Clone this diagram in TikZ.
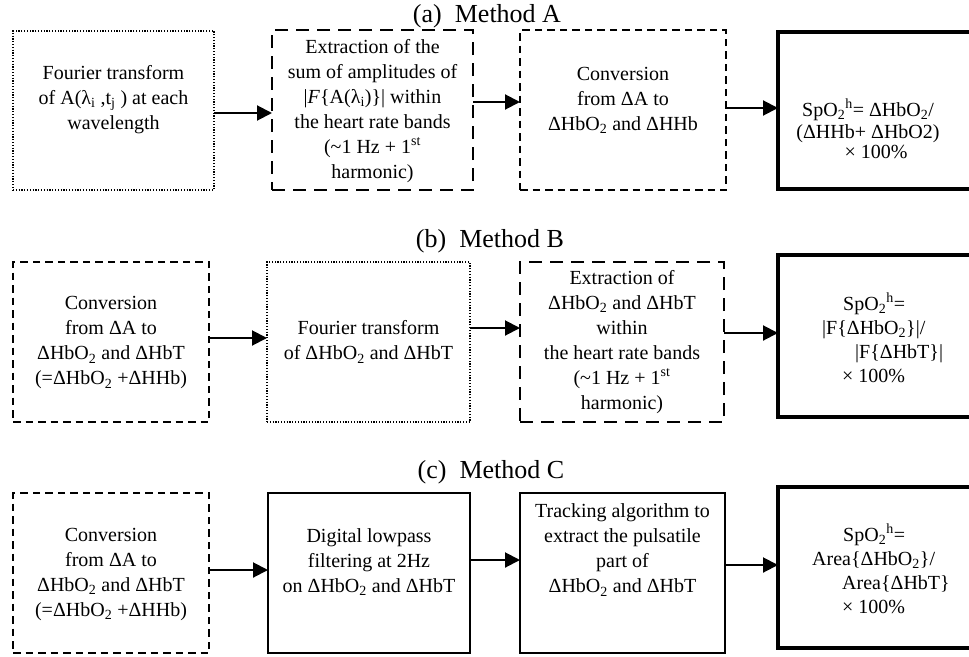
\documentclass[tikz,border=0pt]{standalone}
\usepackage{fontspec}
\setmainfont{Liberation Serif}
\usetikzlibrary{arrows.meta}

\newcommand{\sub}[1]{\textsubscript{#1}}
\newcommand{\sps}[1]{\textsuperscript{#1}}
\newcommand{\D}{Δ}

\begin{document}
\begin{tikzpicture}[x=1pt,y=-1pt,
  box/.style={inner sep=0pt, outer sep=0pt},
  dotbox/.style={box, draw, line width=1.4pt, dash pattern=on 1.2pt off 1.6pt},
  longdash/.style={box, draw, line width=2pt, dash pattern=on 13pt off 8pt},
  shortdash/.style={box, draw, line width=1.8pt, dash pattern=on 7.5pt off 5pt},
  solidbox/.style={box, draw, line width=2pt},
  resultbox/.style={box, draw, line width=4.5pt},
  txt/.style={inner sep=0pt, align=center, font=\fontsize{20}{25}\selectfont},
  ltxt/.style={inner sep=0pt, align=left, anchor=west, font=\fontsize{20}{24.3}\selectfont},
  ttl/.style={inner sep=0pt, anchor=base, font=\fontsize{26}{30}\selectfont},
  arr/.style={line width=2pt, -{Triangle[length=15pt,width=15pt]}}
]
\useasboundingbox (0,0) rectangle (969,656);

% ---------------- (a) Method A ----------------
\node[ttl] (ta) at (487,22) {(a)\hspace{0.5em}Method A};

\node[dotbox,   minimum width=201pt, minimum height=159pt] (a1) at (113.5,110.5) {};
\node[longdash, minimum width=201pt, minimum height=160pt] (a2) at (372.5,110) {};
\node[shortdash,minimum width=206pt, minimum height=160pt] (a3) at (623,110) {};
\node[resultbox,minimum width=220pt, minimum height=157pt] (a4) at (888,110.5) {};

\node[txt] (a1t) at (113.5,100) {Fourier transform\\ of A(λ\sub{i} ,t\sub{j} ) at each\\ wavelength};
\node[txt] (a2t) at (372.5,111) {Extraction of the\\ sum of amplitudes of\\
  |\textit{F}\{A(λ\sub{i})\}| within\\ the heart rate bands\\
  (\textasciitilde1 Hz + 1\sps{st}\\ harmonic)};
\node[txt] (a3t) at (623,100) {Conversion\\ from \D A to\\ \D HbO\sub{2} and \D HHb};
\node[txt, font=\fontsize{20}{21}\selectfont] (a4t) at (868,129)
  {SpO\sub{2}\sps{h}= \D HbO\sub{2}/\\[1pt] (\D HHb+ \D HbO2)\\[-1pt] \hspace{16pt}× 100\%};

\draw[arr] (a1.east |- 0,113) -- (a2.west |- 0,113);
\draw[arr] (a2.east |- 0,102) -- (a3.west |- 0,102);
\draw[arr] (a3.east |- 0,108) -- (a4.west |- 0,108);

% ---------------- (b) Method B ----------------
\node[ttl] (tb) at (490,247) {(b)\hspace{0.5em}Method B};

\node[shortdash,minimum width=196pt, minimum height=160pt] (b1) at (111,342) {};
\node[dotbox,   minimum width=203pt, minimum height=160pt] (b2) at (368.5,342) {};
\node[longdash, minimum width=204pt, minimum height=160pt] (b3) at (622,342) {};
\node[resultbox,minimum width=220pt, minimum height=162pt] (b4) at (888,336) {};

\node[txt] (b1t) at (111,343) {Conversion\\ from \D A to\\ \D HbO\sub{2} and \D HbT\\ (=\D HbO\sub{2} +\D HHb)};
\node[txt] (b2t) at (368.5,342) {Fourier transform\\ of \D HbO\sub{2} and \D HbT};
\node[txt] (b3t) at (622,342) {Extraction of\\ \D HbO\sub{2} and \D HbT\\ within\\
  the heart rate bands\\ (\textasciitilde1 Hz + 1\sps{st}\\ harmonic)};
\node[ltxt] (b4t) at (822,338) {\hspace{21pt}SpO\sub{2}\sps{h}=\\ |F\{\D HbO\sub{2}\}|/\\
  \hspace{33pt}|F\{\D HbT\}|\\ \hspace{20pt}× 100\%};

\draw[arr] (b1.east |- 0,338) -- (b2.west |- 0,338);
\draw[arr] (b2.east |- 0,328) -- (b3.west |- 0,328);
\draw[arr] (b3.east |- 0,333) -- (b4.west |- 0,333);

% ---------------- (c) Method C ----------------
\node[ttl] (tc) at (491,478) {(c)\hspace{0.5em}Method C};

\node[shortdash,minimum width=196pt, minimum height=160pt] (c1) at (111,573) {};
\node[solidbox, minimum width=202pt, minimum height=160pt] (c2) at (369,573) {};
\node[solidbox, minimum width=205pt, minimum height=160pt] (c3) at (622.5,573) {};
\node[resultbox,minimum width=220pt, minimum height=161pt] (c4) at (888,567.5) {};

\node[txt] (c1t) at (111,574) {Conversion\\ from \D A to\\ \D HbO\sub{2} and \D HbT\\ (=\D HbO\sub{2} +\D HHb)};
\node[txt] (c2t) at (369,562) {Digital lowpass\\ filtering at 2Hz\\ on \D HbO\sub{2} and \D HbT};
\node[txt] (c3t) at (622.5,550) {Tracking algorithm to\\ extract the pulsatile\\ part of\\ \D HbO\sub{2} and \D HbT};
\node[ltxt] (c4t) at (812,569) {\hspace{31pt}SpO\sub{2}\sps{h}=\\ Area\{\D HbO\sub{2}\}/\\
  \hspace{30pt}Area\{\D HbT\}\\ \hspace{30pt}× 100\%};

\draw[arr] (c1.east |- 0,570) -- (c2.west |- 0,570);
\draw[arr] (c2.east |- 0,560) -- (c3.west |- 0,560);
\draw[arr] (c3.east |- 0,565) -- (c4.west |- 0,565);
\end{tikzpicture}
\end{document}
